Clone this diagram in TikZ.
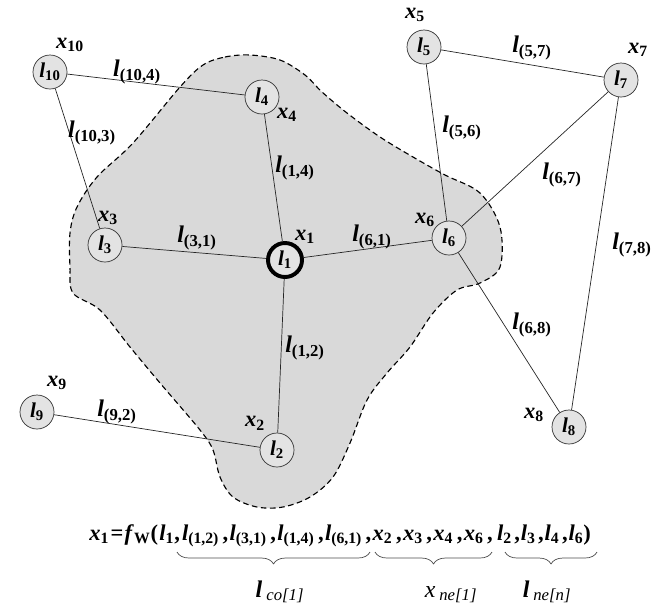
\documentclass[tikz,border=0pt]{standalone}
\usepackage{fontspec}
\setmainfont{Liberation Serif}
\usetikzlibrary{decorations.pathreplacing}
\definecolor{blobgray}{gray}{0.85}
\definecolor{nodegray}{gray}{0.89}
\newcommand{\lv}[1]{\textit{l}\textsubscript{\upshape#1}}
\newcommand{\xv}[1]{\textit{x}\textsubscript{\upshape#1}}
\newcommand{\sep}{\kern2.5pt,\kern1pt}
\newcommand{\tsep}{\kern1.8pt,\kern0.6pt}
\tikzset{
  lnode/.style   = {circle, draw=black!80, fill=nodegray, line width=0.5pt,
                    minimum size=0.85cm, inner sep=0pt,
                    font=\fontsize{15}{17}\selectfont\bfseries},
  lcentre/.style = {lnode, draw=black, line width=2.8pt},
  xlab/.style    = {font=\fontsize{16}{18}\selectfont\bfseries, inner sep=0pt},
  elab/.style    = {font=\fontsize{17}{19}\selectfont\bfseries, inner sep=0pt},
  flab/.style    = {font=\fontsize{16}{18}\selectfont\bfseries, inner sep=0pt},
  link/.style    = {draw=black!85, line width=0.5pt},
  blob/.style    = {fill=blobgray, draw=black, line width=0.8pt,
                    dash pattern=on 4pt off 2.5pt},
  brc/.style     = {draw=black!70, line width=0.5pt, decorate,
                    decoration={brace, mirror, amplitude=0.3cm}},
  brlab/.style   = {font=\fontsize{17}{19}\selectfont\itshape, inner sep=0pt},
}

\begin{document}
\begin{tikzpicture}[x=0.025cm, y=-0.025cm, line join=round]
  \useasboundingbox (0,0) rectangle (668,608);
  % neighbourhood of l1
  \draw[blob] plot[smooth cycle, tension=0.55] coordinates {
    (203,65) (225,57) (250,55) (280,60) (305,75) (322,92) (347,113)
    (380,137) (413,157) (445,175) (480,193) (500,227)
    (500,267) (480,283) (457,290) (433,313) (410,347) (387,373) (367,400)
    (350,443) (333,477) (310,497) (283,507) (257,507) (233,497) (220,477)
    (213,450) (200,430) (160,383) (130,347) (100,310) (73,293) (70,267)
    (70,233) (77,207) (97,177) (133,143) (180,87)};
  % nodes
  \node[lcentre] (l1)  at (285,260) {\lv{1}};
  \node[lnode]   (l2)  at (277,450) {\lv{2}};
  \node[lnode]   (l3)  at (105,245) {\lv{3}};
  \node[lnode]   (l4)  at (262,97)  {\lv{4}};
  \node[lnode]   (l5)  at (424,47)  {\lv{5}};
  \node[lnode]   (l6)  at (449,238) {\lv{6}};
  \node[lnode]   (l7)  at (621,80)  {\lv{7}};
  \node[lnode]   (l8)  at (569,427) {\lv{8}};
  \node[lnode]   (l9)  at (37,412)  {\lv{9}};
  \node[lnode]   (l10) at (50,72)   {\lv{10}};
  % links
  \draw[link] (l10) -- (l4);
  \draw[link] (l10) -- (l3);
  \draw[link] (l4) -- (l1);
  \draw[link] (l3) -- (l1);
  \draw[link] (l1) -- (l6);
  \draw[link] (l1) -- (l2);
  \draw[link] (l9) -- (l2);
  \draw[link] (l5) -- (l6);
  \draw[link] (l5) -- (l7);
  \draw[link] (l7) -- (l6);
  \draw[link] (l7) -- (l8);
  \draw[link] (l6) -- (l8);
  % state labels
  \node[xlab] (x1)  at (305,237) {\xv{1}};
  \node[xlab] (x2)  at (255,423) {\xv{2}};
  \node[xlab] (x3)  at (108,218) {\xv{3}};
  \node[xlab] (x4)  at (287,115) {\xv{4}};
  \node[xlab] (x5)  at (415,15)  {\xv{5}};
  \node[xlab] (x6)  at (425,220) {\xv{6}};
  \node[xlab] (x7)  at (638,50)  {\xv{7}};
  \node[xlab] (x8)  at (534,415) {\xv{8}};
  \node[xlab] (x9)  at (57,383)  {\xv{9}};
  \node[xlab] (x10) at (70,45)   {\xv{10}};
  % link labels
  \node[elab] (e104) at (137,72)  {\lv{(10,4)}};
  \node[elab] (e103) at (92,133)  {\lv{(10,3)}};
  \node[elab] (e14)  at (295,168) {\lv{(1,4)}};
  \node[elab] (e31)  at (197,238) {\lv{(3,1)}};
  \node[elab] (e61)  at (372,237) {\lv{(6,1)}};
  \node[elab] (e56)  at (462,128) {\lv{(5,6)}};
  \node[elab] (e57)  at (532,48)  {\lv{(5,7)}};
  \node[elab] (e67)  at (562,175) {\lv{(6,7)}};
  \node[elab] (e78)  at (632,245) {\lv{(7,8)}};
  \node[elab] (e12)  at (305,348) {\lv{(1,2)}};
  \node[elab] (e92)  at (117,412) {\lv{(9,2)}};
  \node[elab] (e68)  at (532,325) {\lv{(6,8)}};
  % transition function
  \node[flab, anchor=base west] (fw) at (89,540)
    {\xv{1}\kern1pt=\kern1pt\textit{f}\textsubscript{\upshape W}(\kern1pt%
     \lv{1},\kern1.5pt\lv{(1,2)}\sep\lv{(3,1)}\sep\lv{(1,4)}\sep\lv{(6,1)}\sep%
     \xv{2}\sep\xv{3}\sep\xv{4}\sep\xv{6}\kern2.5pt,\kern3pt%
     \lv{2}\tsep\lv{3}\tsep\lv{4}\tsep\lv{6})};
  \coordinate (b1a) at (177,552);
  \coordinate (b1b) at (370,552);
  \coordinate (b2a) at (375,552);
  \coordinate (b2b) at (492,552);
  \coordinate (b3a) at (505,552);
  \coordinate (b3b) at (597,552);
  \draw[brc] (b1a) -- (b1b);
  \draw[brc] (b2a) -- (b2b);
  \draw[brc] (b3a) -- (b3b);
  \node[brlab, anchor=base] (lco) at (280,597)
    {\textbf{\textit{l}}\,\textsubscript{co[1]}};
  \node[brlab, anchor=base] (xne) at (451,597) {\textit{x}\,\textsubscript{ne[1]}};
  \node[brlab, anchor=base] (lne) at (547,597)
    {\textbf{\textit{l}}\,\textsubscript{ne[n]}};
\end{tikzpicture}
\end{document}
